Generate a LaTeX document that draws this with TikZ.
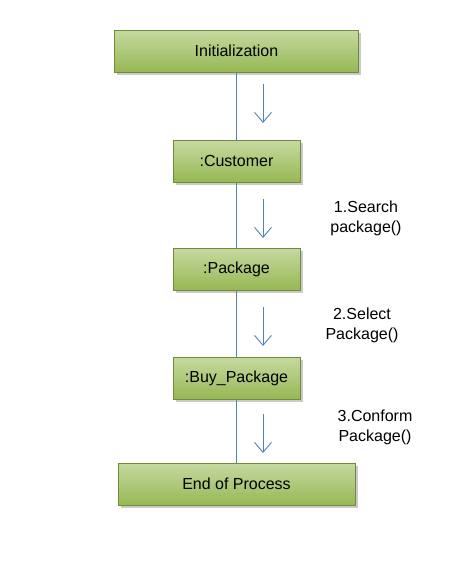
\documentclass[tikz,border=0pt]{standalone}
\usepackage{fontspec}
\setmainfont{Liberation Sans}
\usetikzlibrary{arrows.meta,shadows}
\definecolor{boxtop}{RGB}{198,217,160}
\definecolor{boxbot}{RGB}{150,184,84}
\definecolor{boxline}{RGB}{112,140,56}
\definecolor{flowblue}{RGB}{79,129,189}
\tikzset{
  objbox/.style={draw=boxline,line width=1pt,top color=boxtop,bottom color=boxbot,
    minimum height=42pt,inner sep=0pt,font=\fontsize{16}{19}\selectfont,
    drop shadow={shadow xshift=2.5pt,shadow yshift=-2.5pt,opacity=0.35,fill=black!60}},
  lifeline/.style={flowblue,line width=1pt},
  msgarrow/.style={flowblue,line width=0.9pt,-{Straight Barb[length=10pt,width=17pt]}},
  msglabel/.style={align=center,font=\fontsize{16}{20}\selectfont,inner sep=0pt}
}
\begin{document}
\begin{tikzpicture}[x=1pt,y=-1pt]
\useasboundingbox (0,0) rectangle (465,562);
\draw (236.5,51) node[objbox,minimum width=244pt] (Init) {Initialization};
\draw (236.5,161) node[objbox,minimum width=127pt] (Cust) {:Customer};
\draw (236.5,269) node[objbox,minimum width=127pt] (Pack) {:Package};
\draw (236.5,378) node[objbox,minimum width=127pt] (Buy) {:Buy\_Package};
\draw (236.5,484) node[objbox,minimum width=237pt] (End) {End of Process};

% lifeline
\draw[lifeline] (Init.south) -- (Cust.north);
\draw[lifeline] (Cust.south) -- (Pack.north);
\draw[lifeline] (Pack.south) -- (Buy.north);
\draw[lifeline] (Buy.south) -- (End.north);

% messages
\coordinate (M0a) at (263,84);  \coordinate (M0b) at (263,123);
\coordinate (M1a) at (263,199); \coordinate (M1b) at (263,238);
\coordinate (M2a) at (263,307); \coordinate (M2b) at (263,346);
\coordinate (M3a) at (263,414); \coordinate (M3b) at (263,453);
\draw[msgarrow] (M0a) -- (M0b);
\draw[msgarrow] (M1a) -- (M1b);
\draw[msgarrow] (M2a) -- (M2b);
\draw[msgarrow] (M3a) -- (M3b);

\draw (366,218) node[msglabel] (L1) {1.Search\\package()};
\draw (362,325) node[msglabel] (L2) {2.Select\\Package()};
\draw (375,427) node[msglabel] (L3) {3.Conform\\Package()};
\end{tikzpicture}
\end{document}
